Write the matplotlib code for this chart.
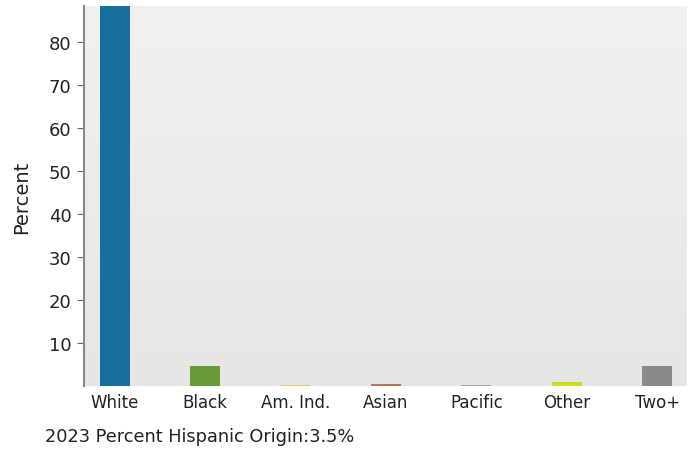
import numpy as np
import matplotlib.pyplot as plt

categories = ['White', 'Black', 'Am. Ind.', 'Asian', 'Pacific', 'Other', 'Two+']
percents = [91.0, 4.7, 0.3, 0.4, 0.2, 1.0, 4.7]
colors = ['#176d9c', '#689a3a', '#e6c66a', '#b8765a', '#a4a4a4', '#c8dc20', '#8a8a8a']
yticks = [10, 20, 30, 40, 50, 60, 70, 80]
footer = '2023 Percent Hispanic Origin:3.5%'

fig = plt.figure(figsize=(6.91, 4.56), dpi=100)
ax = fig.add_axes([84/691, 1 - 387/456, 603/691, 380/456])

x = np.arange(len(categories))
xmin, xmax = -0.34, 6.33
ymax = 88.4

# gradient background
grad = np.linspace(0, 1, 100).reshape(-1, 1)
ax.imshow(grad, cmap=plt.matplotlib.colors.LinearSegmentedColormap.from_list(
    'bg', ['#e6e6e6', '#f1f1f1']), origin='lower', aspect='auto',
    extent=[xmin, xmax, 0, ymax], zorder=0)

ax.bar(x, percents, width=0.33, color=colors, zorder=2)
ax.set_xlim(xmin, xmax)
ax.set_ylim(0, ymax)
ax.set_xticks(x)
ax.set_xticklabels(categories, fontsize=12, color='#222222')
ax.set_yticks(yticks)
ax.tick_params(axis='y', labelsize=13, colors='#666666', length=5, pad=4,
               labelcolor='#222222')
ax.tick_params(axis='x', length=0, pad=5)
ax.set_ylabel('Percent', fontsize=14, color='#222222', labelpad=13)

for s in ['top', 'right', 'bottom']:
    ax.spines[s].set_visible(False)
ax.spines['left'].set_color('#888888')
ax.spines['left'].set_linewidth(1.5)

fig.text(45/691, 1 - 437/456, footer, fontsize=12.8, color='#222222', va='center')

plt.savefig('out.png', dpi=100)
